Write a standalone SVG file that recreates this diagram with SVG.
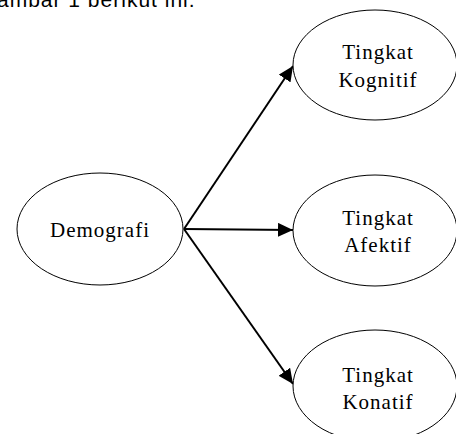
<svg xmlns="http://www.w3.org/2000/svg" width="456" height="434" viewBox="0 0 456 434">
<style>
.node ellipse{fill:#fff;stroke:#000;stroke-width:1}
.lbl{font-family:"Liberation Serif","Times New Roman",serif;font-size:21px;letter-spacing:1px;fill:#000;text-anchor:middle}
.conn line{stroke:#000;stroke-width:2;fill:none}
.hdr{font-family:"Liberation Sans",Arial,sans-serif;font-size:21px;letter-spacing:1px;fill:#000}
</style>
<defs>
<marker id="ah" markerUnits="userSpaceOnUse" markerWidth="16" markerHeight="14" refX="15" refY="7" orient="auto">
<path d="M0,0 L15,7 L0,14 Z" fill="#000"/>
</marker>
</defs>
<rect width="456" height="434" fill="#fff"/>
<text class="hdr" x="-3" y="7">ambar 1 berikut ini.</text>
<g id="connectors" class="conn">
<line x1="184" y1="229" x2="293" y2="66" marker-end="url(#ah)"/>
<line x1="184" y1="229" x2="293" y2="230" marker-end="url(#ah)"/>
<line x1="184" y1="229" x2="293" y2="384" marker-end="url(#ah)"/>
</g>
<g id="demografi" class="node">
<ellipse cx="100" cy="229" rx="83" ry="56"/>
<text class="lbl" x="100" y="237">Demografi</text>
</g>
<g id="kognitif" class="node">
<ellipse cx="375" cy="65" rx="82" ry="55"/>
<text class="lbl" x="378" y="59">Tingkat</text>
<text class="lbl" x="378" y="87">Kognitif</text>
</g>
<g id="afektif" class="node">
<ellipse cx="375" cy="230.5" rx="82" ry="55.5"/>
<text class="lbl" x="378" y="225">Tingkat</text>
<text class="lbl" x="378" y="252">Afektif</text>
</g>
<g id="konatif" class="node">
<ellipse cx="375" cy="386" rx="82" ry="56"/>
<text class="lbl" x="378" y="382">Tingkat</text>
<text class="lbl" x="378" y="409">Konatif</text>
</g>
</svg>
